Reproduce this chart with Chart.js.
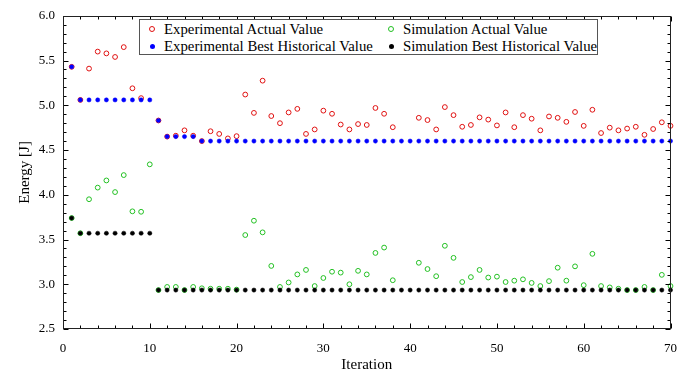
<!DOCTYPE html>
<html>
<head>
<meta charset="utf-8">
<script src="https://cdn.jsdelivr.net/npm/chart.js@4/dist/chart.umd.min.js"></script>
<style>
  html, body { margin: 0; padding: 0; background: #fff; }
  #wrap { position: relative; width: 689px; height: 374px; }
  #legend {
    position: absolute; left: 139px; top: 19px; width: 457px; height: 34px;
    border: 1px solid #555; background: #fff; box-sizing: content-box;
    font-family: "Liberation Serif", serif; font-size: 14.8px; color: #000;
  }
  .item { position: absolute; white-space: nowrap; line-height: 16px; }
  .mk { position: absolute; box-sizing: border-box; border-radius: 50%; }
</style>
</head>
<body>
<div id="wrap">
  <canvas id="c" width="689" height="374"></canvas>
  <div id="legend"></div>
</div>
<script>
const iterations = [1,2,3,4,5,6,7,8,9,10,11,12,13,14,15,16,17,18,19,20,21,22,23,24,25,26,27,28,29,30,31,32,33,34,35,36,37,38,39,40,41,42,43,44,45,46,47,48,49,50,51,52,53,54,55,56,57,58,59,60,61,62,63,64,65,66,67,68,69,70];

const expActual = [5.43,5.06,5.41,5.60,5.58,5.54,5.65,5.19,5.08,null,
  4.83,4.65,4.66,4.72,4.66,4.60,4.71,4.68,4.63,4.655,
  5.12,4.915,5.275,4.88,4.80,4.92,4.96,4.68,4.73,4.94,
  4.905,4.785,4.73,4.79,4.78,4.97,4.905,4.755,null,null,
  4.86,4.835,4.73,4.98,4.89,4.76,4.78,4.865,4.84,4.775,
  4.92,4.755,4.89,4.85,4.72,4.875,4.86,4.815,4.925,4.77,
  4.95,4.69,4.75,4.72,4.74,4.76,4.67,4.735,4.81,4.77];

const expBest = [5.43,5.06,5.06,5.06,5.06,5.06,5.06,5.06,5.06,5.06,
  4.83,4.65,4.65,4.65,4.65,4.60,4.60,4.60,4.60,4.60,
  4.60,4.60,4.60,4.60,4.60,4.60,4.60,4.60,4.60,4.60,
  4.60,4.60,4.60,4.60,4.60,4.60,4.60,4.60,4.60,4.60,
  4.60,4.60,4.60,4.60,4.60,4.60,4.60,4.60,4.60,4.60,
  4.60,4.60,4.60,4.60,4.60,4.60,4.60,4.60,4.60,4.60,
  4.60,4.60,4.60,4.60,4.60,4.60,4.60,4.60,4.60,4.60];

const simActual = [3.74,3.57,3.95,4.08,4.16,4.03,4.22,3.815,3.81,4.34,
  2.935,2.97,2.97,2.935,2.97,2.955,2.95,2.95,2.95,2.94,
  3.55,3.71,3.58,3.205,2.97,3.02,3.11,3.16,2.98,3.07,
  3.14,3.13,3.00,3.15,3.11,3.35,3.41,3.045,null,null,
  3.24,3.17,3.09,3.43,3.295,3.025,3.08,3.16,3.075,3.085,
  3.025,3.04,3.055,3.015,2.98,3.035,3.185,3.04,3.20,2.99,
  3.34,2.98,2.965,2.95,2.935,2.935,2.97,2.935,3.105,2.98];

const simBest = [3.74,3.57,3.57,3.57,3.57,3.57,3.57,3.57,3.57,3.57,
  2.935,2.935,2.935,2.935,2.935,2.935,2.935,2.935,2.935,2.935,
  2.935,2.935,2.935,2.935,2.935,2.935,2.935,2.935,2.935,2.935,
  2.935,2.935,2.935,2.935,2.935,2.935,2.935,2.935,2.935,2.935,
  2.935,2.935,2.935,2.935,2.935,2.935,2.935,2.935,2.935,2.935,
  2.935,2.935,2.935,2.935,2.935,2.935,2.935,2.935,2.935,2.935,
  2.935,2.935,2.935,2.935,2.935,2.935,2.935,2.935,2.935,2.935];

const seriesNames = ["Experimental Actual Value", "Simulation Actual Value",
                     "Experimental Best Historical Value", "Simulation Best Historical Value"];
const xTicks = [0,10,20,30,40,50,60,70];
const yTicks = [2.5,3,3.5,4,4.5,5,5.5,6];

const RED = '#e01010', GREEN = '#22c022', BLUE = '#0000ff', BLACK = '#000000';
const FONT = '"Liberation Serif", serif';

function pts(arr) { return iterations.map((x, i) => ({x: x, y: arr[i]})); }

const frameTicks = {
  id: 'frameTicks',
  afterDraw(chart) {
    const {ctx, chartArea: a, scales: {x, y}} = chart;
    ctx.save();
    ctx.strokeStyle = '#000';
    ctx.lineWidth = 1;
    const L = Math.round(a.left) + 0.5, R = Math.round(a.right) - 0.5;
    const T = Math.round(a.top) + 0.5, B = Math.round(a.bottom) - 0.5;
    ctx.beginPath();
    for (let v = 0; v <= 70; v += 2) {
      const px = Math.round(x.getPixelForValue(v)) + 0.5;
      const len = (v % 10 === 0) ? 5 : 3;
      ctx.moveTo(px, B); ctx.lineTo(px, B - len);
      ctx.moveTo(px, T); ctx.lineTo(px, T + len);
    }
    for (let k = 25; k <= 60; k += 1) {
      const v = k / 10;
      const py = Math.round(y.getPixelForValue(v)) + 0.5;
      const len = (k % 5 === 0) ? 5 : 3;
      ctx.moveTo(L, py); ctx.lineTo(L + len, py);
      ctx.moveTo(R, py); ctx.lineTo(R - len, py);
    }
    ctx.stroke();
    ctx.strokeStyle = '#222';
    ctx.strokeRect(L, T, R - L, B - T);
    ctx.restore();
  }
};

new Chart(document.getElementById('c'), {
  type: 'line',
  data: {
    datasets: [
      { label: seriesNames[2], data: pts(expBest), showLine: false, pointStyle: 'circle', clip: false,
        pointRadius: 2.1, pointBackgroundColor: BLUE, pointBorderColor: BLUE, pointBorderWidth: 0.5 },
      { label: seriesNames[3], data: pts(simBest), showLine: false, pointStyle: 'circle', clip: false,
        pointRadius: 2.1, pointBackgroundColor: BLACK, pointBorderColor: BLACK, pointBorderWidth: 0.5 },
      { label: seriesNames[0], data: pts(expActual), showLine: false, pointStyle: 'circle', clip: false,
        pointRadius: 2.4, pointBackgroundColor: 'rgba(0,0,0,0)', pointBorderColor: RED, pointBorderWidth: 1 },
      { label: seriesNames[1], data: pts(simActual), showLine: false, pointStyle: 'circle', clip: false,
        pointRadius: 2.4, pointBackgroundColor: 'rgba(0,0,0,0)', pointBorderColor: GREEN, pointBorderWidth: 1 }
    ]
  },
  options: {
    responsive: false,
    animation: false,
    spanGaps: false,
    layout: { padding: { top: 14, right: 12, left: 0, bottom: 0 } },
    plugins: { legend: { display: false }, tooltip: { enabled: false } },
    scales: {
      x: {
        type: 'linear', min: 0, max: 70,
        afterBuildTicks(s) { s.ticks = xTicks.map(v => ({value: v})); },
        afterFit(s) { s.height = 45; },
        grid: { display: false, drawTicks: false },
        border: { display: false },
        ticks: { color: '#000', padding: 12, font: { family: FONT, size: 13 }, maxRotation: 0 },
        title: { display: true, text: 'Iteration', color: '#000',
                 font: { family: FONT, size: 15 }, padding: { top: 0, bottom: 0 } }
      },
      y: {
        type: 'linear', min: 2.5, max: 6,
        afterBuildTicks(s) { s.ticks = yTicks.map(v => ({value: v})); },
        afterFit(s) { s.width = 63; },
        grid: { display: false, drawTicks: false },
        border: { display: false },
        ticks: { color: '#000', padding: 8, font: { family: FONT, size: 13 } },
        title: { display: true, text: 'Energy [J]', color: '#000',
                 font: { family: FONT, size: 15 }, padding: { top: 16, bottom: 0 } }
      }
    }
  },
  plugins: [frameTicks]
});

const legendItems = [
  { name: seriesNames[0], color: RED,   hollow: true,  x: 0,   y: 0 },
  { name: seriesNames[1], color: GREEN, hollow: true,  x: 239, y: 0 },
  { name: seriesNames[2], color: BLUE,  hollow: false, x: 0,   y: 17 },
  { name: seriesNames[3], color: BLACK, hollow: false, x: 239, y: 17 }
];
const lg = document.getElementById('legend');
legendItems.forEach(it => {
  const m = document.createElement('div');
  m.className = 'mk';
  const d = it.hollow ? 6 : 5;
  m.style.width = d + 'px'; m.style.height = d + 'px';
  m.style.left = (12 + it.x - d / 2) + 'px';
  m.style.top = (9 + it.y - d / 2) + 'px';
  if (it.hollow) { m.style.border = '1px solid ' + it.color; }
  else { m.style.background = it.color; }
  lg.appendChild(m);
  const t = document.createElement('div');
  t.className = 'item';
  t.textContent = it.name;
  t.style.left = (24 + it.x) + 'px';
  t.style.top = (1 + it.y) + 'px';
  lg.appendChild(t);
});
</script>
</body>
</html>
